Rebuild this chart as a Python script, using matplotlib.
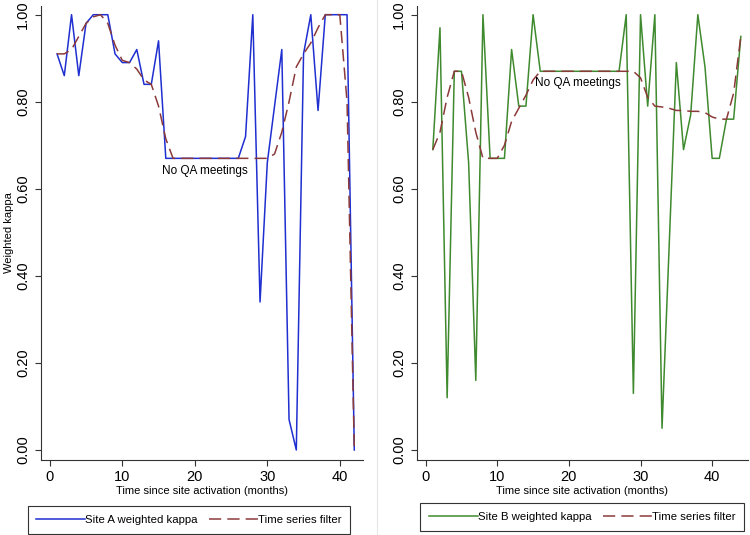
import matplotlib
matplotlib.use('Agg')
import matplotlib.pyplot as plt
from matplotlib.lines import Line2D
import numpy as np

plt.rcParams['font.family'] = ['Liberation Sans', 'DejaVu Sans']

# Site A (months 1..42)
months_a = list(range(1, 43))
kappa_a = [0.91, 0.86, 1.00, 0.86, 0.98, 1.00, 1.00, 1.00, 0.91, 0.89,
           0.89, 0.92, 0.84, 0.84, 0.94, 0.67, 0.67, 0.67, 0.67, 0.67,
           0.67, 0.67, 0.67, 0.67, 0.67, 0.67, 0.72, 1.00, 0.34, 0.66,
           0.79, 0.92, 0.07, 0.00, 0.91, 1.00, 0.78, 1.00, 1.00, 1.00,
           1.00, 0.00]
filter_a = [0.91, 0.91, 0.92, 0.95, 0.98, 0.995, 1.00, 0.98, 0.93, 0.895,
            0.89, 0.875, 0.85, 0.84, 0.79, 0.715, 0.67, 0.67, 0.67, 0.67,
            0.67, 0.67, 0.67, 0.67, 0.67, 0.67, 0.67, 0.67, 0.67, 0.67,
            0.68, 0.73, 0.80, 0.88, 0.91, 0.935, 0.97, 1.00, 1.00, 1.00,
            0.80, 0.00]

# Site B (months 1..44)
months_b = list(range(1, 45))
kappa_b = [0.69, 0.97, 0.12, 0.87, 0.87, 0.66, 0.16, 1.00, 0.67, 0.67,
           0.67, 0.92, 0.79, 0.79, 1.00, 0.87, 0.87, 0.87, 0.87, 0.87,
           0.87, 0.87, 0.87, 0.87, 0.87, 0.87, 0.87, 1.00, 0.13, 1.00,
           0.79, 1.00, 0.05, 0.47, 0.89, 0.69, 0.77, 1.00, 0.88, 0.67,
           0.67, 0.76, 0.76, 0.95]
filter_b = [0.69, 0.73, 0.81, 0.87, 0.87, 0.81, 0.73, 0.67, 0.67, 0.67,
            0.70, 0.755, 0.785, 0.815, 0.85, 0.87, 0.87, 0.87, 0.87, 0.87,
            0.87, 0.87, 0.87, 0.87, 0.87, 0.87, 0.87, 0.87, 0.87, 0.855,
            0.81, 0.79, 0.788, 0.785, 0.78, 0.78, 0.778, 0.778, 0.775, 0.765,
            0.76, 0.76, 0.82, 0.95]

yticks = [0.0, 0.2, 0.4, 0.6, 0.8, 1.0]
xticks = [0, 10, 20, 30, 40]

blue = '#1f2fd0'
green = '#3f8a2e'
maroon = '#8b3a3a'
dash = (0, (8, 4))

fig = plt.figure(figsize=(7.5, 5.35), dpi=100)

def panel(rect, x, y, f, color, label, xmax, text_xy, ylabel=None):
    ax = fig.add_axes(rect)
    l1, = ax.plot(x, y, color=color, lw=1.1, label=label)
    l2, = ax.plot(x, f, color=maroon, lw=1.1, linestyle=dash, label='Time series filter')
    ax.set_xlim(-1.25, xmax)
    ax.set_ylim(-0.023, 1.02)
    ax.set_xticks(xticks)
    ax.set_yticks(yticks)
    ax.set_yticklabels(['%.2f' % t for t in yticks], rotation=90, va='center')
    ax.tick_params(axis='both', labelsize=10.5, length=4, width=0.8, color='#333333')
    for s in ['top', 'right']:
        ax.spines[s].set_visible(False)
    for s in ['left', 'bottom']:
        ax.spines[s].set_color('#333333')
        ax.spines[s].set_linewidth(0.8)
    ax.set_xlabel('Time since site activation (months)', fontsize=8, labelpad=1)
    if ylabel:
        ax.set_ylabel(ylabel, fontsize=8, labelpad=2)
    ax.text(text_xy[0], text_xy[1], 'No QA meetings', fontsize=8.5, ha='center', va='center')
    return ax, l1, l2

ax1, a1, a2 = panel([0.0543, 0.1402, 0.4297, 0.8486], months_a, kappa_a, filter_a,
                    blue, 'Site A weighted kappa', 43.2, (21.4, 0.641), 'Weighted kappa')
ax2, b1, b2 = panel([0.5556, 0.1402, 0.4417, 0.8486], months_b, kappa_b, filter_b,
                    green, 'Site B weighted kappa', 45.0, (21.3, 0.844))

for handles, center in [([a1, a2], (189 / 750, 1 - 520 / 535)),
                        ([b1, b2], (582 / 750, 1 - 517 / 535))]:
    leg = fig.legend(handles, [h.get_label() for h in handles], loc='center',
                     bbox_to_anchor=center, ncol=2, fontsize=8.2,
                     handlelength=4.3, handletextpad=0.0, columnspacing=1.0,
                     borderpad=0.75, borderaxespad=0, fancybox=False, framealpha=1)
    leg.get_frame().set_edgecolor('#333333')
    leg.get_frame().set_linewidth(0.8)

# faint divider between the two combined graphs
fig.add_artist(Line2D([0.503, 0.503], [0, 1], color='#e6e6e6', lw=0.8))

fig.savefig('out.png', dpi=100)
